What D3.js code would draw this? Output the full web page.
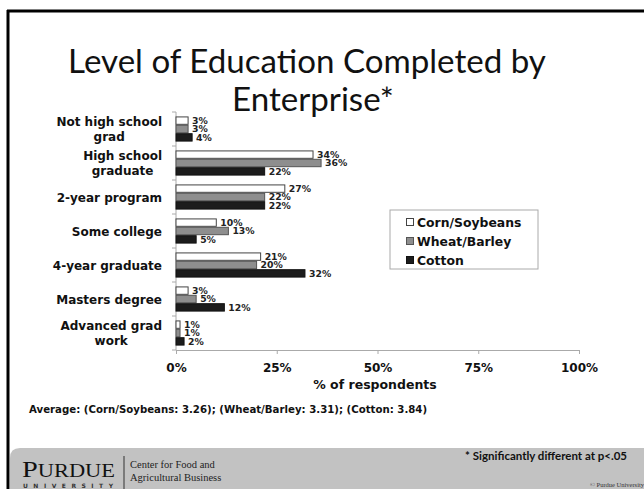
<!DOCTYPE html>
<html>
<head>
<meta charset="utf-8">
<script src="https://cdn.jsdelivr.net/npm/d3@7"></script>
<style>
  html, body { margin: 0; padding: 0; background: #fff; }
  svg { display: block; }
</style>
</head>
<body>
<script>
// Education level by enterprise (% of respondents)
const categories = ["Not high school\ngrad", "High school\ngraduate", "2-year program", "Some college",
                    "4-year graduate", "Masters degree", "Advanced grad\nwork"];
const seriesNames = ["Corn/Soybeans", "Wheat/Barley", "Cotton"];
const cornSoybeans = [3, 34, 27, 10, 21, 3, 1];
const wheatBarley = [3, 36, 22, 13, 20, 5, 1];
const cotton = [4, 22, 22, 5, 32, 12, 2];
const xTicks = [0, 25, 50, 75, 100];
const averages = [3.26, 3.31, 3.84];

const seriesValues = [cornSoybeans, wheatBarley, cotton];
const fills = ["#ffffff", "#8e8e8e", "#1c1c1c"];
const strokes = ["#444", "#555", "#111"];

const W = 644, H = 489;
const svg = d3.select("body").append("svg").attr("width", W).attr("height", H);
const bold = "'DejaVu Sans', Verdana, sans-serif";
const titleFont = "Lato, 'Open Sans', sans-serif";

// slide frame
svg.append("rect").attr("x", 0).attr("y", 0).attr("width", W).attr("height", H).attr("fill", "#fff");
svg.append("line").attr("x1", 7).attr("x2", W).attr("y1", 11).attr("y2", 11)
  .attr("stroke", "#000").attr("stroke-width", 3);
svg.append("line").attr("x1", 8).attr("x2", 8).attr("y1", 10).attr("y2", H)
  .attr("stroke", "#000").attr("stroke-width", 3);

// title, sized so the first line spans a fixed width
const t1 = svg.append("text").attr("x", 307).attr("y", 73).attr("text-anchor", "middle")
  .attr("font-family", titleFont).attr("font-size", 32).attr("fill", "#111")
  .text("Level of Education Completed by");
const w1 = t1.node().getComputedTextLength();
const titleSize = 32 * 478 / w1;
t1.attr("font-size", titleSize);
svg.append("text").attr("x", 313).attr("y", 111).attr("text-anchor", "middle")
  .attr("font-family", titleFont).attr("font-size", titleSize).attr("fill", "#111")
  .text("Enterprise*");

// scales
const x = d3.scaleLinear().domain([0, 100]).range([176, 579]);
const y0 = d3.scaleBand().domain(categories).range([112, 350]).paddingInner(0.26).paddingOuter(0.13);
const y1 = d3.scaleBand().domain(seriesNames).range([0, y0.bandwidth()]);

// x axis
const xAxis = svg.append("g").attr("transform", "translate(0,350)")
  .call(d3.axisBottom(x).tickValues(xTicks).tickFormat(d => d + "%").tickSize(4).tickPadding(9));
xAxis.select(".domain").attr("stroke", "#aaa");
xAxis.selectAll(".tick line").attr("stroke", "#aaa");
xAxis.selectAll(".tick text").attr("font-family", bold).attr("font-weight", "bold")
  .attr("font-size", 12).attr("fill", "#111");

// y axis line with category boundary ticks
const yAxis = svg.append("g");
yAxis.append("line").attr("x1", 176).attr("x2", 176).attr("y1", 112).attr("y2", 350).attr("stroke", "#aaa");
const step = y0.step();
d3.range(categories.length + 1).forEach(i => {
  const yy = 112 + i * step;
  yAxis.append("line").attr("x1", 172).attr("x2", 176).attr("y1", yy).attr("y2", yy).attr("stroke", "#aaa");
});

// category labels: right-aligned blocks, lines centred within the block
const catG = svg.append("g");
categories.forEach(c => {
  const lines = c.split("\n");
  const cy = y0(c) + y0.bandwidth() / 2;
  const g = catG.append("g");
  const texts = lines.map((ln, i) => g.append("text")
    .attr("y", cy + (i - (lines.length - 1) / 2) * 15 + 4.5)
    .attr("text-anchor", "middle")
    .attr("font-family", bold).attr("font-weight", "bold").attr("font-size", 12).attr("fill", "#111")
    .text(ln));
  const wmax = d3.max(texts, t => t.node().getComputedTextLength());
  texts.forEach(t => t.attr("x", 162 - wmax / 2));
});

// bars with value labels
const rows = categories.map((c, ci) => seriesNames.map((s, si) => ({ c, s, si, v: seriesValues[si][ci] })));
const groups = svg.append("g").selectAll("g").data(rows).join("g")
  .attr("transform", d => `translate(0,${y0(d[0].c)})`);
groups.selectAll("rect").data(d => d).join("rect")
  .attr("x", x(0)).attr("y", d => y1(d.s) + 0.5)
  .attr("width", d => x(d.v) - x(0)).attr("height", y1.bandwidth() - 1)
  .attr("fill", d => fills[d.si]).attr("stroke", d => strokes[d.si]).attr("stroke-width", 1);
groups.selectAll("text").data(d => d).join("text")
  .attr("x", d => x(d.v) + 4).attr("y", d => y1(d.s) + y1.bandwidth() / 2 + 3.5)
  .attr("font-family", bold).attr("font-weight", "bold").attr("font-size", 9.3).attr("fill", "#222")
  .text(d => d.v + "%");

// axis title
svg.append("text").attr("x", 375).attr("y", 389).attr("text-anchor", "middle")
  .attr("font-family", bold).attr("font-weight", "bold").attr("font-size", 12.5).attr("fill", "#111")
  .text("% of respondents");

// legend
const lg = svg.append("g").attr("transform", "translate(390,210)");
lg.append("rect").attr("width", 148).attr("height", 59).attr("fill", "#fff").attr("stroke", "#aaa");
seriesNames.forEach((s, i) => {
  const yy = 12 + i * 19;
  lg.append("rect").attr("x", 16.5).attr("y", yy - 3.5).attr("width", 7).attr("height", 7)
    .attr("fill", fills[i]).attr("stroke", strokes[i]);
  lg.append("text").attr("x", 27).attr("y", yy + 4.5).attr("font-family", bold).attr("font-weight", "bold")
    .attr("font-size", 12.4).attr("fill", "#111").text(s);
});

// averages note
svg.append("text").attr("x", 29).attr("y", 413).attr("font-family", bold).attr("font-weight", "bold")
  .attr("font-size", 10.2).attr("fill", "#111")
  .text(`Average: (${seriesNames[0]}: ${averages[0]}); (${seriesNames[1]}: ${averages[1]}); (${seriesNames[2]}: ${averages[2]})`);

// footer band
svg.append("path").attr("d", `M10,${H} L10,458 Q10,448 20,448 L${W},448 L${W},${H} Z`).attr("fill", "#c2c2c2");
svg.append("text").attr("x", 627).attr("y", 460).attr("text-anchor", "end")
  .attr("font-family", titleFont).attr("font-weight", "bold").attr("font-size", 11.5).attr("fill", "#111")
  .text("* Significantly different at p<.05");
const logo = svg.append("text").attr("x", 22).attr("y", 477).attr("font-family", "'Liberation Serif', serif")
  .attr("fill", "#111").attr("textLength", 93).attr("lengthAdjust", "spacingAndGlyphs");
logo.append("tspan").attr("font-size", 24).text("P");
logo.append("tspan").attr("font-size", 19).text("URDUE");
svg.append("text").attr("x", 23).attr("y", 488).attr("font-family", "'DejaVu Sans', sans-serif").attr("font-weight", "bold")
  .attr("font-size", 6).attr("fill", "#333").attr("textLength", 90).attr("lengthAdjust", "spacing")
  .text("UNIVERSITY");
svg.append("line").attr("x1", 124).attr("x2", 124).attr("y1", 456).attr("y2", H).attr("stroke", "#333");
svg.append("text").attr("x", 130).attr("y", 468).attr("font-family", "'Liberation Serif', serif")
  .attr("font-size", 10.5).attr("fill", "#222").text("Center for Food and");
svg.append("text").attr("x", 130).attr("y", 481).attr("font-family", "'Liberation Serif', serif")
  .attr("font-size", 10.5).attr("fill", "#222").text("Agricultural Business");
svg.append("text").attr("x", 644).attr("y", 487).attr("text-anchor", "end").attr("font-family", "'Liberation Serif', serif")
  .attr("font-size", 6.5).attr("fill", "#333").text("© Purdue University");
</script>
</body>
</html>
